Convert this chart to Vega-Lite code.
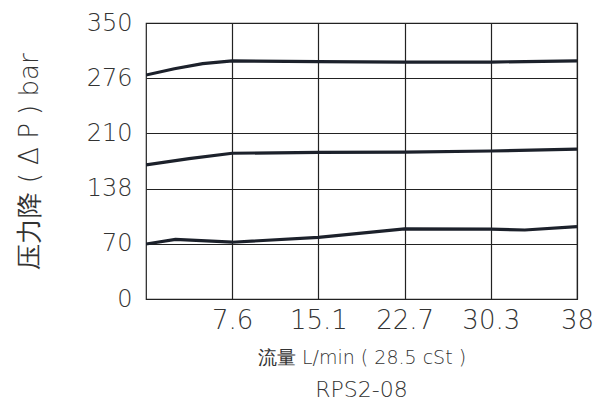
{
  "$schema": "https://vega.github.io/schema/vega-lite/v6.json",
  "autosize": {"type": "none"},
  "width": 431,
  "height": 276,
  "padding": {"left": 146, "top": 23, "right": 21, "bottom": 106},
  "background": "white",
  "config": {
    "view": {"stroke": "#222222", "strokeWidth": 1.2},
    "font": "DejaVu Sans"
  },
  "title": {
    "text": "RPS2-08",
    "orient": "bottom",
    "anchor": "middle",
    "fontSize": 22,
    "fontWeight": 200,
    "color": "#333333",
    "offset": 13
  },
  "data": {
    "values": [
      {"s": "high", "q": 0, "p": 284},
      {"s": "high", "q": 2.5, "p": 292},
      {"s": "high", "q": 5, "p": 298.5},
      {"s": "high", "q": 7.6, "p": 302},
      {"s": "high", "q": 15.2, "p": 301},
      {"s": "high", "q": 22.8, "p": 300.5},
      {"s": "high", "q": 30.4, "p": 300.5},
      {"s": "high", "q": 38, "p": 302},
      {"s": "mid", "q": 0, "p": 170},
      {"s": "mid", "q": 3.8, "p": 178},
      {"s": "mid", "q": 7.6, "p": 184.8},
      {"s": "mid", "q": 15.2, "p": 186},
      {"s": "mid", "q": 22.8, "p": 186.2},
      {"s": "mid", "q": 30.4, "p": 187.7},
      {"s": "mid", "q": 38, "p": 190},
      {"s": "low", "q": 0, "p": 69.7},
      {"s": "low", "q": 2.6, "p": 75.5},
      {"s": "low", "q": 7.6, "p": 72},
      {"s": "low", "q": 15.2, "p": 78.2},
      {"s": "low", "q": 22.8, "p": 88.8},
      {"s": "low", "q": 30.4, "p": 88.6},
      {"s": "low", "q": 33.4, "p": 87.5},
      {"s": "low", "q": 38, "p": 91.7}
    ]
  },
  "mark": {"type": "line", "color": "#1c212b", "strokeWidth": 3.2, "clip": true},
  "encoding": {
    "detail": {"field": "s"},
    "x": {
      "field": "q",
      "type": "quantitative",
      "scale": {"domain": [0, 38], "nice": false, "zero": false},
      "axis": {
        "values": [7.6, 15.2, 22.8, 30.4, 38],
        "labelExpr": "datum.value == 7.6 ? '7.6' : datum.value == 15.2 ? '15.1' : datum.value == 22.8 ? '22.7' : datum.value == 30.4 ? '30.3' : '38'",
        "grid": true,
        "gridColor": "#222222",
        "gridOpacity": 1,
        "gridWidth": 1.2,
        "ticks": false,
        "domain": false,
        "labelFontSize": 26,
        "labelFontWeight": 200,
        "labelColor": "#333333",
        "labelPadding": 8,
        "labelFlush": false,
        "title": "流量 L/min ( 28.5 cSt )",
        "titleFontSize": 19,
        "titleFontWeight": 200,
        "titleColor": "#333333",
        "titlePadding": 15
      }
    },
    "y": {
      "field": "p",
      "type": "quantitative",
      "scale": {"domain": [0, 350], "nice": false},
      "axis": {
        "values": [0, 70, 140, 210, 280, 350],
        "labelExpr": "datum.value == 140 ? '138' : datum.value == 280 ? '276' : datum.value + ''",
        "grid": true,
        "gridColor": "#222222",
        "gridOpacity": 1,
        "gridWidth": 1.2,
        "ticks": false,
        "domain": false,
        "labelFontSize": 24,
        "labelFontWeight": 200,
        "labelColor": "#333333",
        "labelPadding": 14,
        "labelFlush": false,
        "title": "压力降 ( Δ P ) bar",
        "titleFontSize": 26,
        "titleFontWeight": 200,
        "titleColor": "#333333",
        "titlePadding": 44
      }
    }
  }
}
